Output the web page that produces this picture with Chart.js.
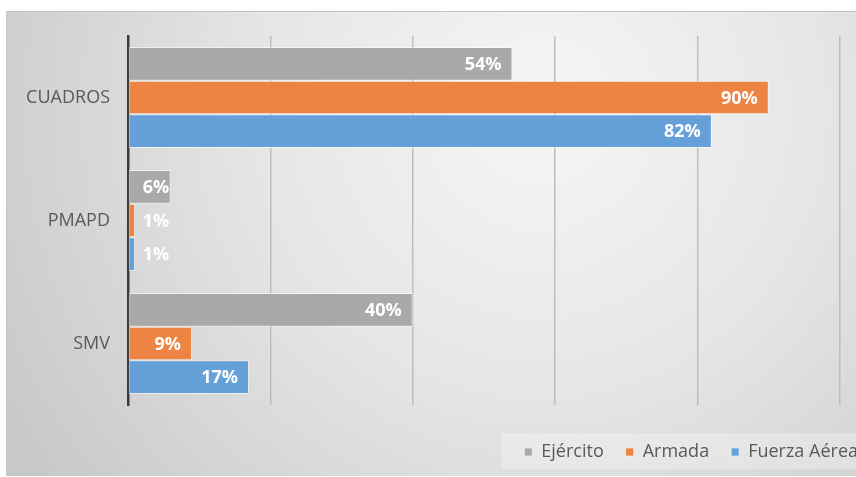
<!DOCTYPE html>
<html>
<head>
<meta charset="utf-8">
<script src="https://cdn.jsdelivr.net/npm/chart.js@4.4.0/dist/chart.umd.min.js"></script>
<style>
html,body{margin:0;padding:0;background:#fff;overflow:hidden;}
#wrap{position:relative;width:856px;height:477px;overflow:hidden;}
</style>
</head>
<body>
<div id="wrap"><canvas id="c" width="880" height="477"></canvas></div>
<script>
const categories = ["CUADROS", "PMAPD", "SMV"];
const ejercito = [54, 6, 40];
const armada = [90, 1, 9];
const fuerzaAerea = [82, 1, 17];
const seriesNames = ["Ejército", "Armada", "Fuerza Aérea"];
const xTicks = [0, 20, 40, 60, 80, 100];

const FONT = "'Open Sans', sans-serif";

const bgPlugin = {
  id: 'bg',
  beforeDraw(chart) {
    const ctx = chart.ctx;
    ctx.save();
    ctx.fillStyle = '#ffffff';
    ctx.fillRect(0, 0, chart.width, chart.height);
    const g = ctx.createRadialGradient(540, 110, 0, 540, 110, 620);
    g.addColorStop(0, '#f6f6f6');
    g.addColorStop(0.45, '#e6e6e6');
    g.addColorStop(1, '#c8c8c8');
    ctx.fillStyle = g;
    ctx.fillRect(6, 12, chart.width - 6, 464);
    ctx.strokeStyle = '#c4c4c4';
    ctx.lineWidth = 1;
    ctx.beginPath();
    ctx.moveTo(6.5, 476); ctx.lineTo(6.5, 11.5); ctx.lineTo(chart.width, 11.5);
    ctx.stroke();
    const lg = chart.legend;
    if (lg && lg.legendHitBoxes && lg.legendHitBoxes.length) {
      const first = lg.legendHitBoxes[0];
      ctx.fillStyle = 'rgba(255,255,255,0.28)';
      ctx.fillRect(first.left - 23, 433, chart.width - (first.left - 23), 36);
    }
    ctx.restore();
  }
};

const labelPlugin = {
  id: 'vals',
  afterDatasetsDraw(chart) {
    const ctx = chart.ctx;
    ctx.save();
    ctx.font = "bold 18px " + FONT;
    ctx.fillStyle = '#ffffff';
    ctx.textAlign = 'right';
    ctx.textBaseline = 'middle';
    chart.data.datasets.forEach((ds, di) => {
      const meta = chart.getDatasetMeta(di);
      meta.data.forEach((bar, i) => {
        const txt = ds.data[i] + '%';
        const w = ctx.measureText(txt).width;
        const xr = Math.max(bar.x - 11, bar.base + 14 + w);
        ctx.fillText(txt, xr, bar.y + 1);
      });
    });
    ctx.restore();
  }
};

const mk = (label, data, color) => ({
  label, data,
  backgroundColor: color,
  borderColor: 'rgba(255,255,255,0.55)',
  borderWidth: 1,
  borderSkipped: false,
  categoryPercentage: 0.82,
  barPercentage: 1.0
});

new Chart(document.getElementById('c'), {
  type: 'bar',
  data: {
    labels: categories,
    datasets: [
      mk(seriesNames[0], ejercito, '#a9a9a9'),
      mk(seriesNames[1], armada, '#ed8443'),
      mk(seriesNames[2], fuerzaAerea, '#66a0d8')
    ]
  },
  options: {
    indexAxis: 'y',
    responsive: false,
    animation: false,
    devicePixelRatio: 1,
    layout: { padding: { left: 6, right: 0, top: 36, bottom: 6 } },
    scales: {
      x: {
        min: 0, max: 100,
        afterBuildTicks(s) { s.ticks = xTicks.map(v => ({ value: v })); },
        afterFit(s) { s.height = 16; },
        ticks: { display: false },
        grid: { color: '#bdbdbd', lineWidth: 1.5, drawTicks: false },
        border: { display: false }
      },
      y: {
        afterFit(s) { s.width = 122; },
        ticks: { color: '#595959', font: { family: FONT, size: 18 }, padding: 18 },
        grid: { display: false, drawTicks: false },
        border: { display: true, color: '#3a3a3a', width: 2.5 }
      },
      yRight: {
        type: 'category',
        position: 'right',
        display: true,
        afterFit(s) { s.width = 40; },
        ticks: { display: false },
        grid: { display: false, drawTicks: false },
        border: { display: false }
      }
    },
    plugins: {
      legend: {
        position: 'bottom',
        align: 'end',
        labels: {
          boxWidth: 8, boxHeight: 8,
          color: '#595959',
          font: { family: FONT, size: 18 },
          padding: 22
        }
      },
      tooltip: { enabled: false }
    }
  },
  plugins: [bgPlugin, labelPlugin]
});
</script>
</body>
</html>
